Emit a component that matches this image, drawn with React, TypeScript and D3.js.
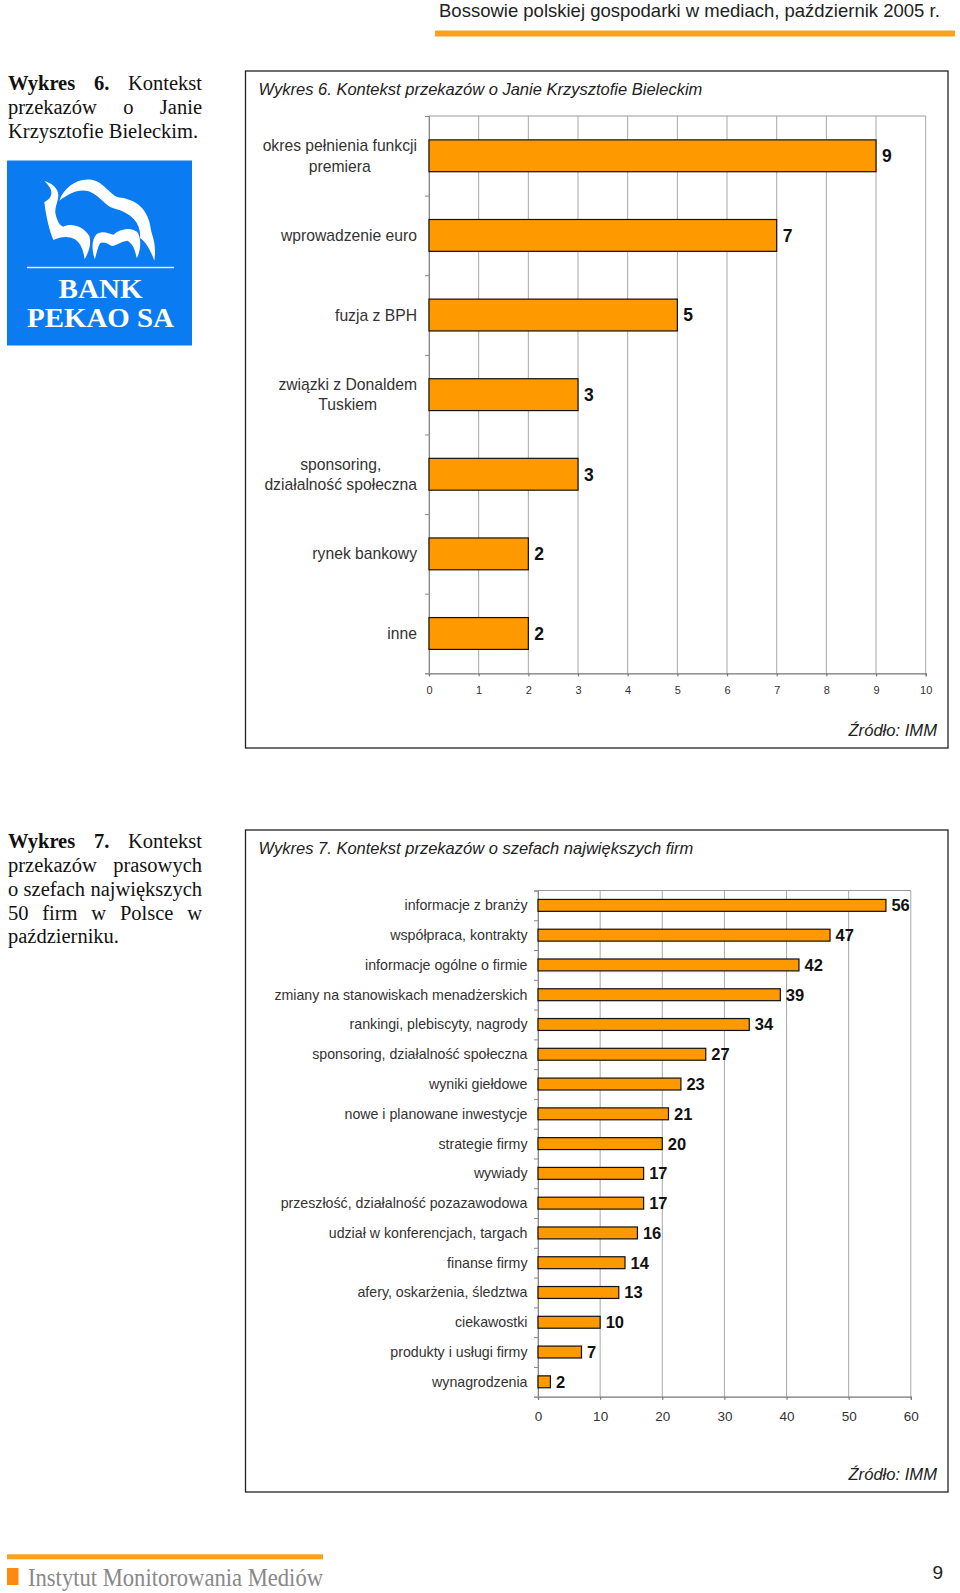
import { useEffect, useRef } from 'react';
import * as d3 from 'd3';

const SANS = '"Liberation Sans", Arial, sans-serif';
const SERIF = '"Liberation Serif", "Times New Roman", serif';
const ORANGE = '#ff9900';

const chart6Categories = [
  'okres pełnienia funkcji\npremiera',
  'wprowadzenie euro',
  'fuzja z BPH',
  'związki z Donaldem\nTuskiem',
  'sponsoring,\ndziałalność społeczna',
  'rynek bankowy',
  'inne',
];
const chart6Values = [9, 7, 5, 3, 3, 2, 2];
const chart6Ticks = [0, 1, 2, 3, 4, 5, 6, 7, 8, 9, 10];

const chart7Categories = [
  'informacje z branży',
  'współpraca, kontrakty',
  'informacje ogólne o firmie',
  'zmiany na stanowiskach menadżerskich',
  'rankingi, plebiscyty, nagrody',
  'sponsoring, działalność społeczna',
  'wyniki giełdowe',
  'nowe i planowane inwestycje',
  'strategie firmy',
  'wywiady',
  'przeszłość, działalność pozazawodowa',
  'udział w konferencjach, targach',
  'finanse firmy',
  'afery, oskarżenia, śledztwa',
  'ciekawostki',
  'produkty i usługi firmy',
  'wynagrodzenia',
];
const chart7Values = [56, 47, 42, 39, 34, 27, 23, 21, 20, 17, 17, 16, 14, 13, 10, 7, 2];
const chart7Ticks = [0, 10, 20, 30, 40, 50, 60];

const caption6 = [
  { bold: 'Wykres 6.', rest: ' Kontekst', justify: true },
  { bold: '', rest: 'przekazów o Janie', justify: true },
  { bold: '', rest: 'Krzysztofie Bieleckim.', justify: false },
];
const caption7 = [
  { bold: 'Wykres 7.', rest: ' Kontekst', justify: true },
  { bold: '', rest: 'przekazów prasowych', justify: true },
  { bold: '', rest: 'o szefach największych', justify: true },
  { bold: '', rest: '50 firm w Polsce w', justify: true },
  { bold: '', rest: 'październiku.', justify: false },
];

interface BarPanel {
  frame: { x: number; y: number; w: number; h: number };
  title: string;
  source: { x: number; y: number };
  plot: { left: number; right: number; top: number; bottom: number };
  categories: string[];
  values: number[];
  ticks: number[];
  labelRight: number;
  labelSize: number;
  lineGap: number;
  tickSize: number;
  tickDy: number;
  valueSize: number;
  valueGap: number;
}

const panels: BarPanel[] = [
  {
    frame: { x: 245.5, y: 71, w: 702.5, h: 677 },
    title: 'Wykres 6. Kontekst przekazów o Janie Krzysztofie Bieleckim',
    source: { x: 937, y: 736 },
    plot: { left: 429, right: 925.7, top: 116, bottom: 673.3 },
    categories: chart6Categories,
    values: chart6Values,
    ticks: chart6Ticks,
    labelRight: 417,
    labelSize: 15.7,
    lineGap: 20.5,
    tickSize: 11,
    tickDy: 24,
    valueSize: 17.5,
    valueGap: 6,
  },
  {
    frame: { x: 245.5, y: 830, w: 702.5, h: 662 },
    title: 'Wykres 7. Kontekst przekazów o szefach największych firm',
    source: { x: 937, y: 1480 },
    plot: { left: 538, right: 910.8, top: 890.5, bottom: 1396.7 },
    categories: chart7Categories,
    values: chart7Values,
    ticks: chart7Ticks,
    labelRight: 527.5,
    labelSize: 14.2,
    lineGap: 16,
    tickSize: 13.5,
    tickDy: 26,
    valueSize: 16.5,
    valueGap: 5.5,
  },
];

function drawPanel(svg: d3.Selection<SVGSVGElement, unknown, null, undefined>, p: BarPanel) {
  const g = svg.append('g');

  g.append('rect')
    .attr('x', p.frame.x)
    .attr('y', p.frame.y)
    .attr('width', p.frame.w)
    .attr('height', p.frame.h)
    .attr('fill', 'white')
    .attr('stroke', '#222')
    .attr('stroke-width', 1.3);

  g.append('text')
    .attr('x', p.frame.x + 13)
    .attr('y', p.frame.y + 23.7)
    .style('font-family', SANS)
    .style('font-size', '16.5px')
    .style('font-style', 'italic')
    .style('fill', '#222')
    .text(p.title);

  g.append('text')
    .attr('x', p.source.x)
    .attr('y', p.source.y)
    .attr('text-anchor', 'end')
    .style('font-family', SANS)
    .style('font-size', '16.6px')
    .style('font-style', 'italic')
    .style('fill', '#222')
    .text('Źródło: IMM');

  const xScale = d3.scaleLinear()
    .domain([p.ticks[0], p.ticks[p.ticks.length - 1]])
    .range([p.plot.left, p.plot.right]);

  const yScale = d3.scaleBand<string>()
    .domain(p.categories)
    .range([p.plot.top, p.plot.bottom])
    .paddingInner(0.6)
    .paddingOuter(0.3);

  // Boundaries between categories carry the tick marks, as in a spreadsheet chart
  const edgeScale = d3.scaleLinear()
    .domain([0, p.categories.length])
    .range([p.plot.top, p.plot.bottom]);

  // Gridlines
  g.append('g')
    .selectAll('line')
    .data(p.ticks)
    .join('line')
    .attr('x1', d => xScale(d))
    .attr('x2', d => xScale(d))
    .attr('y1', p.plot.top)
    .attr('y2', p.plot.bottom)
    .attr('stroke', '#a8a8a8')
    .attr('stroke-width', 1);

  g.append('line')
    .attr('x1', p.plot.left)
    .attr('x2', p.plot.right)
    .attr('y1', p.plot.top)
    .attr('y2', p.plot.top)
    .attr('stroke', '#999');

  // X axis
  const xAxis = g.append('g')
    .attr('transform', `translate(0,${p.plot.bottom})`)
    .call(d3.axisBottom(xScale).tickValues(p.ticks).tickSize(3).tickPadding(p.tickDy - 14).tickFormat(d => String(d)));

  xAxis.selectAll('text')
    .style('font-family', SANS)
    .style('font-size', `${p.tickSize}px`)
    .style('fill', '#333');
  xAxis.selectAll('.domain, line').attr('stroke', '#777').attr('stroke-width', 1.2);

  // Y axis
  const yAxis = g.append('g')
    .attr('transform', `translate(${p.plot.left},0)`)
    .call(d3.axisLeft(edgeScale).tickValues(d3.range(p.categories.length + 1)).tickSize(4).tickFormat(() => ''));

  yAxis.selectAll('.domain, line').attr('stroke', '#888').attr('stroke-width', 1);

  // Bars
  g.append('g')
    .selectAll('rect')
    .data(p.values)
    .join('rect')
    .attr('x', xScale(0))
    .attr('y', (_, i) => yScale(p.categories[i]) as number)
    .attr('width', d => xScale(d) - xScale(0))
    .attr('height', yScale.bandwidth())
    .attr('fill', ORANGE)
    .attr('stroke', '#111')
    .attr('stroke-width', 1.2);

  // Value labels
  g.append('g')
    .selectAll('text')
    .data(p.values)
    .join('text')
    .attr('x', d => xScale(d) + p.valueGap)
    .attr('y', (_, i) => (yScale(p.categories[i]) as number) + yScale.bandwidth() / 2)
    .attr('dy', '0.36em')
    .style('font-family', SANS)
    .style('font-size', `${p.valueSize}px`)
    .style('font-weight', '700')
    .style('fill', '#111')
    .text(d => d);

  // Category labels, wrapped ones are centred on their widest line
  p.categories.forEach(cat => {
    const lines = cat.split('\n');
    const mid = (yScale(cat) as number) + yScale.bandwidth() / 2;
    const label = g.append('g');
    const texts = label.selectAll('text')
      .data(lines)
      .join('text')
      .attr('y', (_, i) => mid + (i - (lines.length - 1) / 2) * p.lineGap)
      .attr('dy', '0.35em')
      .attr('text-anchor', 'middle')
      .style('font-family', SANS)
      .style('font-size', `${p.labelSize}px`)
      .style('fill', '#333')
      .text(d => d);
    const widest = d3.max(texts.nodes() as SVGTextElement[], n => n.getComputedTextLength()) || 0;
    texts.attr('x', p.labelRight - widest / 2);
  });
}

function drawCaption(
  svg: d3.Selection<SVGSVGElement, unknown, null, undefined>,
  lines: typeof caption6,
  x: number,
  top: number,
  width: number,
) {
  lines.forEach((line, i) => {
    const text = svg.append('text')
      .attr('x', x)
      .attr('y', top + i * 23.75)
      .style('font-family', SERIF)
      .style('font-size', '20.5px')
      .style('fill', '#111');
    if (line.bold) text.append('tspan').style('font-weight', '700').text(line.bold);
    text.append('tspan').text(line.rest);
    if (line.justify) {
      const gaps = (line.bold + line.rest).split(' ').length - 1;
      const used = (text.node() as SVGTextElement).getComputedTextLength();
      text.style('word-spacing', `${(width - used) / gaps}px`);
    }
  });
}

function drawLogo(svg: d3.Selection<SVGSVGElement, unknown, null, undefined>) {
  const logo = svg.append('g');
  logo.append('rect')
    .attr('x', 7)
    .attr('y', 160.5)
    .attr('width', 185)
    .attr('height', 185)
    .attr('fill', '#0b7bf2');

  // Bison outline, traced in 3x crop units
  const bison = logo.append('g').attr('transform', 'scale(0.3333)').attr('fill', 'white');
  bison.append('path').attr('d',
    'M178,602 C192,562 232,533 275,539 C312,546 330,584 354,592 C408,598 445,625 453,690 ' +
    'C458,712 470,735 463,782 C452,752 440,728 420,714 C424,672 398,640 345,626 ' +
    'C312,618 292,574 255,572 C225,570 203,585 178,602 Z');
  bison.append('path').attr('d',
    'M133,543 C157,550 175,566 175,586 C175,604 165,618 166,638 C170,660 178,676 190,680 ' +
    'C212,668 250,678 268,708 C275,732 266,757 254,778 C250,750 242,730 225,718 ' +
    'C205,708 185,708 160,720 C148,690 138,650 133,606 C150,598 158,585 152,568 C148,558 140,550 133,543 Z');
  bison.append('path').attr('d',
    'M284,778 C276,748 273,722 290,702 C312,690 325,702 340,704 C360,686 392,680 412,696 ' +
    'C424,716 424,750 410,775 C406,750 398,730 382,722 C364,724 350,736 336,738 ' +
    'C322,730 310,724 300,730 C292,745 290,762 284,778 Z');

  logo.append('line')
    .attr('x1', 27)
    .attr('x2', 174)
    .attr('y1', 267.5)
    .attr('y2', 267.5)
    .attr('stroke', '#dcebff')
    .attr('stroke-width', 1.5);

  logo.selectAll('text')
    .data([{ name: 'BANK', w: 84 }, { name: 'PEKAO SA', w: 147 }])
    .join('text')
    .attr('x', 100.5)
    .attr('y', (_, i) => 298 + i * 28.5)
    .attr('text-anchor', 'middle')
    .attr('textLength', d => d.w)
    .attr('lengthAdjust', 'spacingAndGlyphs')
    .style('font-family', SERIF)
    .style('font-size', '28px')
    .style('font-weight', '700')
    .style('fill', 'white')
    .text(d => d.name);
}

export default function App() {
  const svgRef = useRef<SVGSVGElement>(null);

  useEffect(() => {
    if (!svgRef.current) return;

    const svg = d3.select(svgRef.current);
    svg.selectAll('*').remove();

    // Page header
    svg.append('text')
      .attr('x', 439)
      .attr('y', 16.8)
      .style('font-family', SANS)
      .style('font-size', '18.5px')
      .style('fill', '#222')
      .text('Bossowie polskiej gospodarki w mediach, październik 2005 r.');

    svg.append('rect')
      .attr('x', 435)
      .attr('y', 30.5)
      .attr('width', 520)
      .attr('height', 6)
      .attr('fill', '#fba21c');

    drawCaption(svg, caption6, 8, 90, 194);
    drawLogo(svg);
    drawCaption(svg, caption7, 8, 848.3, 194);

    panels.forEach(p => drawPanel(svg, p));

    // Page footer
    svg.append('rect')
      .attr('x', 7)
      .attr('y', 1554.3)
      .attr('width', 316)
      .attr('height', 5)
      .attr('fill', '#fba21c');

    svg.append('rect')
      .attr('x', 7)
      .attr('y', 1568)
      .attr('width', 11.5)
      .attr('height', 17)
      .attr('fill', '#ff8a10');

    svg.append('text')
      .attr('x', 28)
      .attr('y', 1585.7)
      .attr('textLength', 295)
      .attr('lengthAdjust', 'spacingAndGlyphs')
      .style('font-family', SERIF)
      .style('font-size', '25px')
      .style('fill', '#888')
      .text('Instytut Monitorowania Mediów');

    svg.append('text')
      .attr('x', 943)
      .attr('y', 1579)
      .attr('text-anchor', 'end')
      .style('font-family', SANS)
      .style('font-size', '19px')
      .style('fill', '#222')
      .text('9');
  }, []);

  return (
    <svg
      ref={svgRef}
      width={960}
      height={1593}
      style={{ position: 'absolute', left: 0, top: 0, background: 'white' }}
    />
  );
}
